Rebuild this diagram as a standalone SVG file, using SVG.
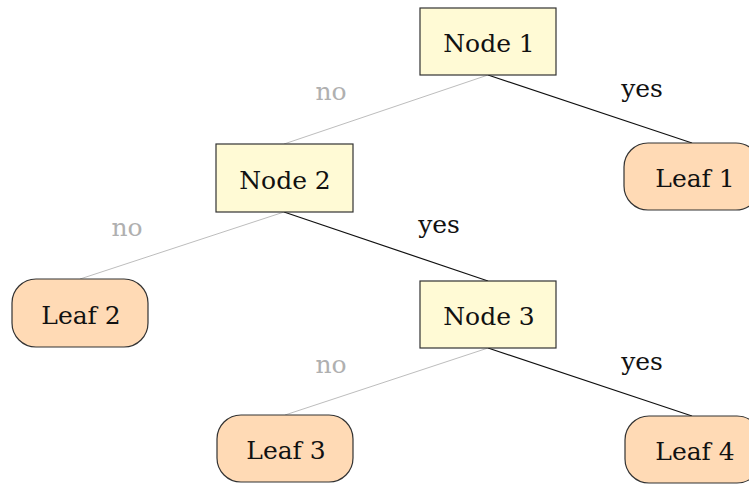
<svg xmlns="http://www.w3.org/2000/svg" width="749" height="484" viewBox="0 0 749 484">
  <style>
    .decision rect { fill: #fffad5; stroke: #333; stroke-width: 1.2; }
    .leaf rect { fill: #ffdab5; stroke: #333; stroke-width: 1.2; }
    text { font-family: "DejaVu Serif", "Liberation Serif", serif; font-size: 25px; fill: #111; text-anchor: middle; }
    .edge-no { stroke: #bdbdbd; stroke-width: 1; }
    .edge-yes { stroke: #111; stroke-width: 1.2; }
    .lbl-no { fill: #b0b0b0; }
    .lbl-yes { fill: #111; }
  </style>

  <g id="edges">
    <line class="edge-no" x1="488" y1="75" x2="284" y2="144"/>
    <line class="edge-yes" x1="488" y1="75" x2="692" y2="143"/>
    <line class="edge-no" x1="284" y1="212" x2="80" y2="279"/>
    <line class="edge-yes" x1="284" y1="212" x2="488" y2="281"/>
    <line class="edge-no" x1="488" y1="348" x2="285" y2="415"/>
    <line class="edge-yes" x1="488" y1="348" x2="692" y2="416"/>
    <text class="lbl-no" x="331" y="100">no</text>
    <text class="lbl-yes" x="642" y="97">yes</text>
    <text class="lbl-no" x="127" y="236">no</text>
    <text class="lbl-yes" x="439" y="233">yes</text>
    <text class="lbl-no" x="331" y="373">no</text>
    <text class="lbl-yes" x="642" y="370">yes</text>
  </g>

  <g id="node1" class="decision">
    <rect x="420" y="8" width="136" height="67"/>
    <text x="489" y="52">Node 1</text>
  </g>
  <g id="node2" class="decision">
    <rect x="216" y="144" width="137" height="68"/>
    <text x="285" y="188.5">Node 2</text>
  </g>
  <g id="node3" class="decision">
    <rect x="420" y="281" width="136" height="67"/>
    <text x="489" y="325">Node 3</text>
  </g>
  <g id="leaf1" class="leaf">
    <rect x="624" y="143" width="136" height="67" rx="24" ry="24"/>
    <text x="695" y="187">Leaf 1</text>
  </g>
  <g id="leaf2" class="leaf">
    <rect x="12" y="279" width="136" height="68" rx="24" ry="24"/>
    <text x="81" y="323.5">Leaf 2</text>
  </g>
  <g id="leaf3" class="leaf">
    <rect x="217" y="415" width="136" height="67" rx="24" ry="24"/>
    <text x="286" y="459">Leaf 3</text>
  </g>
  <g id="leaf4" class="leaf">
    <rect x="625" y="416" width="136" height="67" rx="24" ry="24"/>
    <text x="695" y="460">Leaf 4</text>
  </g>
</svg>
